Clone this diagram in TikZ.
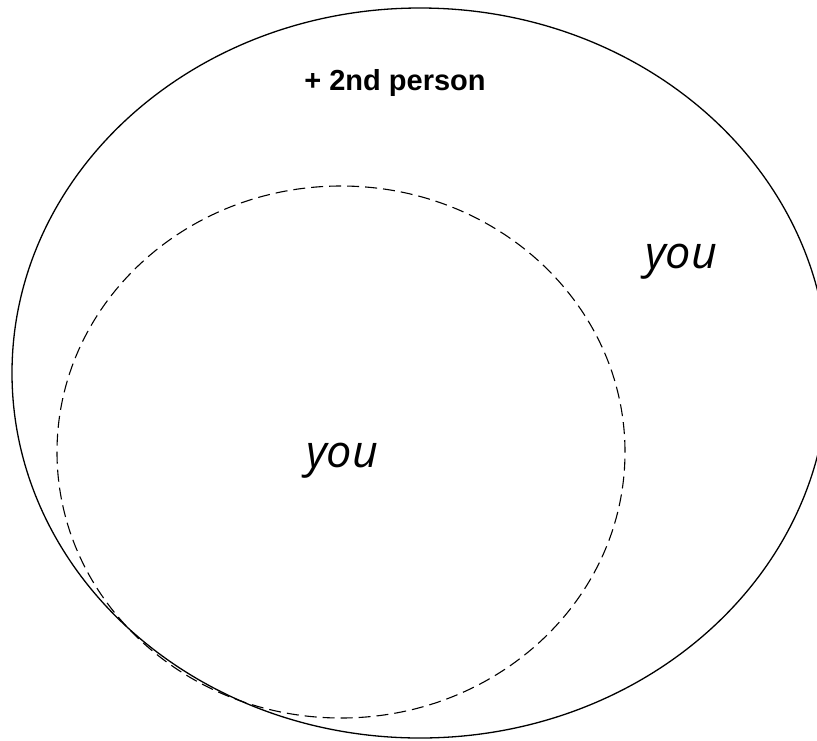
\documentclass[tikz,border=0pt]{standalone}
\usepackage{fontspec}
\newfontfamily\policeArial{Liberation Sans}
\newfontfamily\policeOuverte{Open Sans}
\usetikzlibrary{shapes.geometric}
\begin{document}
\begin{tikzpicture}[x=1pt,y=-1pt]
			% Styles (MODIFIABLES)
			\tikzstyle{ensemble}=[draw,ellipse,inner sep=0pt,line width=1.3pt]
			\tikzstyle{sousensemble}=[ensemble,line width=1.1pt,dash pattern=on 12pt off 6pt]
			\tikzstyle{titre}=[font=\policeArial\bfseries\fontsize{29}{33}\selectfont]
			\tikzstyle{pronom}=[font=\policeOuverte\itshape\fontsize{45}{50}\selectfont]
			% Cadre
			\clip (0,0) rectangle (817,740);
			% Ensembles
			\node[ensemble,minimum width=816pt,minimum height=730pt] (E) at (420,373) {};
			\node[sousensemble,minimum width=568pt,minimum height=532pt] (S) at (341,452) {};
			% Textes
			\node[titre] (personne) at (395,83) {+ 2nd person};
			\node[pronom] (youE) at (681,262) {you};
			\node[pronom] (youS) at (342,461) {you};
		\end{tikzpicture}
\end{document}
